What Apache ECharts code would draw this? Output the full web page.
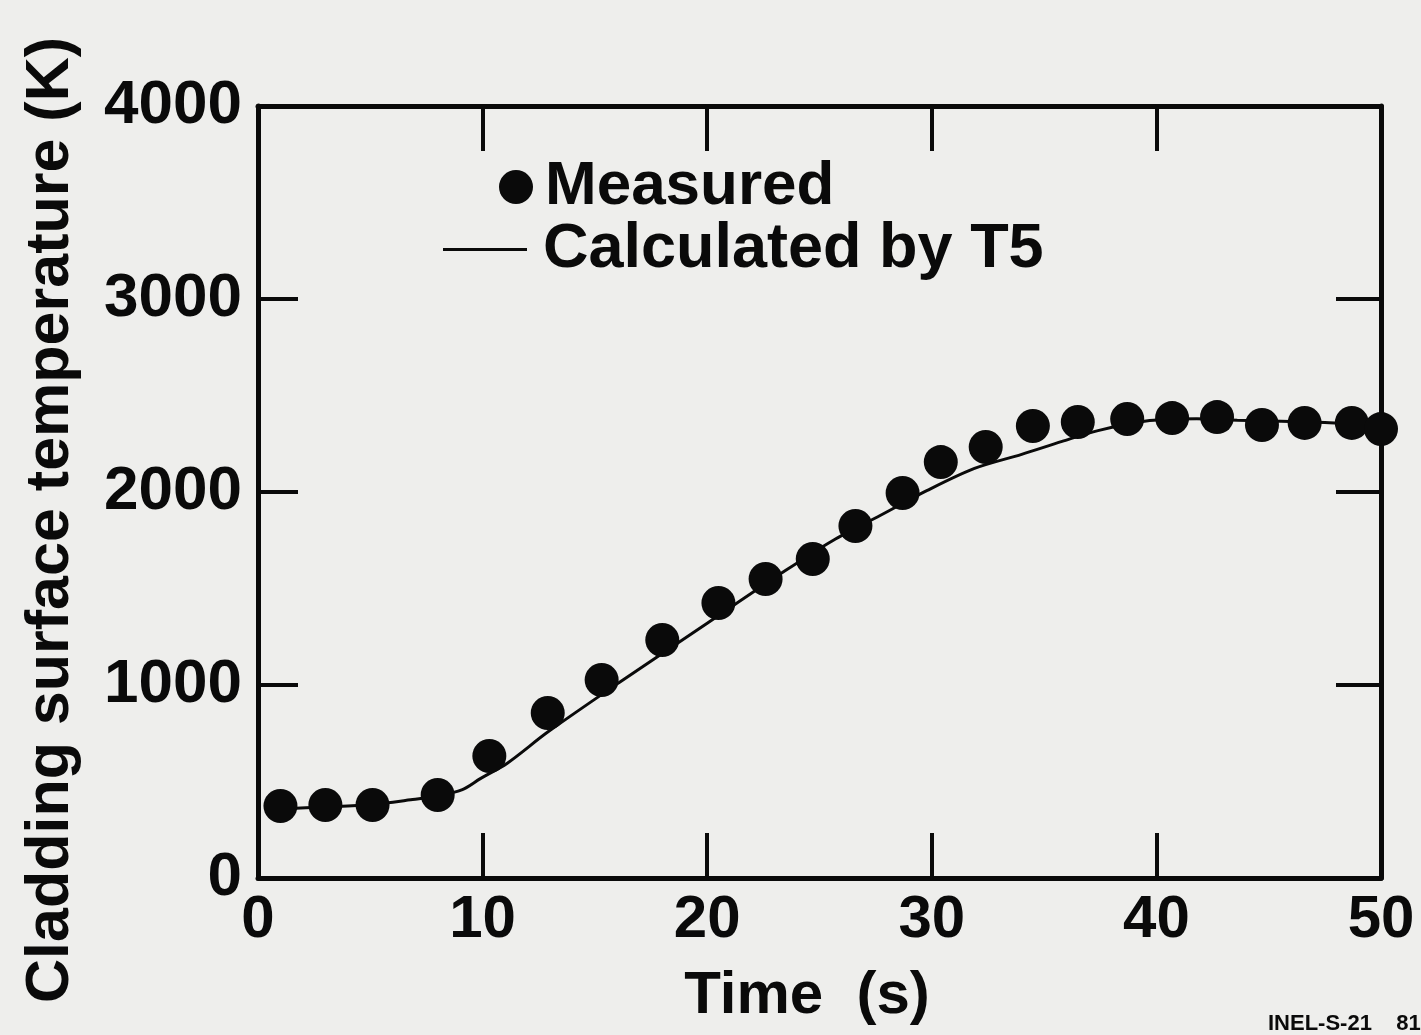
<!DOCTYPE html>
<html>
<head>
<meta charset="utf-8">
<script src="https://cdn.jsdelivr.net/npm/echarts@6/dist/echarts.min.js"></script>
<style>
  html, body { margin: 0; padding: 0; background: #eeeeec; }
  #chart { width: 1421px; height: 1035px; }
</style>
</head>
<body>
<div id="chart"></div>
<script>
// Measured cladding surface temperature (K) against time (s)
const measuredTime = [1.0, 3.0, 5.1, 8.0, 10.3, 12.9, 15.3, 18.0, 20.5, 22.6, 24.7, 26.6,
                      28.7, 30.4, 32.4, 34.5, 36.5, 38.7, 40.7, 42.7, 44.7, 46.6, 48.7, 50.0];
const measuredTemp = [373, 378, 378, 430, 632, 855, 1026, 1233, 1425, 1549, 1653, 1824,
                      1995, 2155, 2233, 2342, 2363, 2378, 2383, 2388, 2347, 2358, 2358, 2326];

// T5 calculation
const calcTime = [1.0, 3.0, 5.0, 6.8, 8.0, 9.1, 9.9, 11.1, 12.9, 16.1, 20.0, 23.5,
                  25.6, 27.7, 29.8, 31.9, 34.0, 35.8, 37.4, 39.7, 41.8, 43.6, 47.5, 50.0];
const calcTemp = [358, 368, 380, 405, 425, 458, 515, 595, 756, 1014, 1320, 1594,
                  1749, 1878, 2008, 2122, 2195, 2262, 2318, 2370, 2380, 2372, 2360, 2345];

const xTicks = [0, 10, 20, 30, 40, 50];
const yTicks = [0, 1000, 2000, 3000, 4000];

const INK = '#0a0a0a';
const FONT = '"Liberation Sans", Arial, sans-serif';

const chart = echarts.init(document.getElementById('chart'), null, { renderer: 'canvas' });

const frameLine = { onZero: false, lineStyle: { color: INK, width: 5 } };
const tickIn = (len) => ({ show: true, inside: true, length: len, lineStyle: { color: INK, width: 4 } });
const plainNumber = (v) => String(v);

chart.setOption({
  backgroundColor: '#eeeeec',
  animation: false,
  grid: { left: 258, right: 40, top: 106, bottom: 157, containLabel: false },
  xAxis: [
    {
      type: 'value', position: 'bottom',
      min: xTicks[0], max: xTicks[xTicks.length - 1], interval: 10,
      axisLine: frameLine, axisTick: tickIn(45), splitLine: { show: false },
      axisLabel: { color: INK, fontSize: 60, fontWeight: 'bold', fontFamily: FONT, margin: 12, formatter: plainNumber },
      name: 'Time  (s)', nameLocation: 'middle', nameGap: 88,
      nameTextStyle: { color: INK, fontSize: 60, fontWeight: 'bold', fontFamily: FONT, padding: [0, 25, 0, 0] }
    },
    {
      type: 'value', position: 'top',
      min: xTicks[0], max: xTicks[xTicks.length - 1], interval: 10,
      axisLine: frameLine, axisTick: tickIn(45), axisLabel: { show: false }, splitLine: { show: false }
    }
  ],
  yAxis: [
    {
      type: 'value', position: 'left',
      min: yTicks[0], max: yTicks[yTicks.length - 1], interval: 1000,
      axisLine: frameLine, axisTick: tickIn(40), splitLine: { show: false },
      axisLabel: { color: INK, fontSize: 62, fontWeight: 'bold', fontFamily: FONT, margin: 16, formatter: plainNumber },
      name: 'Cladding surface temperature (K)', nameLocation: 'middle', nameGap: 176,
      nameTextStyle: { color: INK, fontSize: 61, fontWeight: 'bold', fontFamily: FONT, padding: [0, 56, 0, 0] }
    },
    {
      type: 'value', position: 'right',
      min: yTicks[0], max: yTicks[yTicks.length - 1], interval: 1000,
      axisLine: frameLine, axisTick: tickIn(45), axisLabel: { show: false }, splitLine: { show: false }
    }
  ],
  legend: [
    {
      data: [{ name: 'Measured', icon: 'circle' }],
      left: 499, top: 156, padding: 0, orient: 'vertical',
      itemWidth: 36, itemHeight: 34,
      textStyle: { color: INK, fontSize: 62, fontWeight: 'bold', fontFamily: FONT, lineHeight: 62, padding: [0, 0, 0, 6] }
    },
    {
      data: [{ name: 'Calculated by T5', icon: 'rect' }],
      left: 443, top: 218, padding: 0, orient: 'vertical',
      itemWidth: 84, itemHeight: 3,
      textStyle: { color: INK, fontSize: 63, fontWeight: 'bold', fontFamily: FONT, lineHeight: 62, padding: [0, 0, 0, 11] }
    }
  ],
  series: [
    {
      name: 'Calculated by T5', type: 'line',
      data: calcTime.map((t, i) => [t, calcTemp[i]]),
      smooth: 0.3, showSymbol: false, symbol: 'none',
      lineStyle: { color: INK, width: 3 }, itemStyle: { color: INK },
      z: 2
    },
    {
      name: 'Measured', type: 'scatter',
      data: measuredTime.map((t, i) => [t, measuredTemp[i]]),
      symbol: 'circle', symbolSize: 34,
      itemStyle: { color: INK, opacity: 1 },
      z: 3
    }
  ],
  graphic: [
    {
      type: 'text', left: 1268, top: 1013,
      style: { text: 'INEL-S-21    81', fill: INK, fontSize: 22, fontWeight: 'bold', fontFamily: FONT }
    }
  ]
});
</script>
</body>
</html>
